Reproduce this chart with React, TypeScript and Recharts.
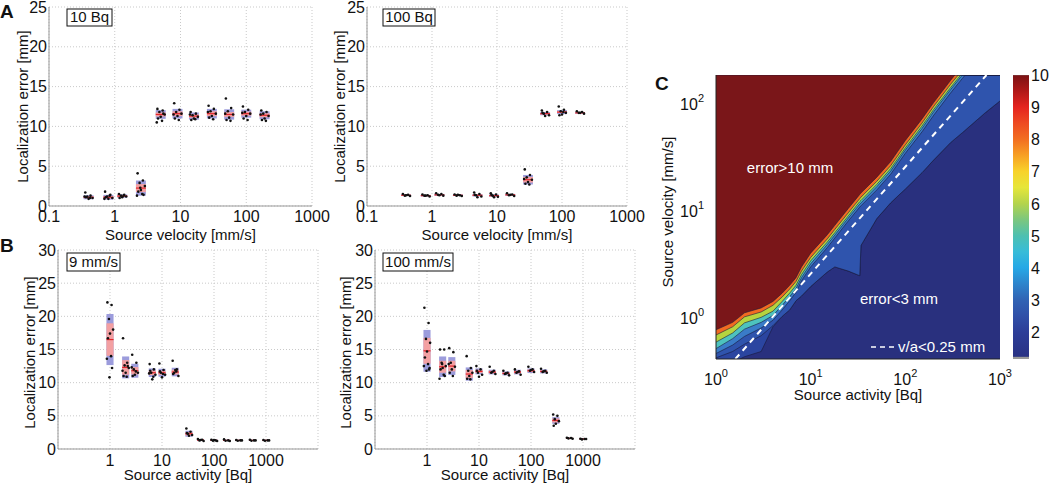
import React from 'react';
import {
  ComposedChart,
  XAxis,
  YAxis,
  CartesianGrid,
  Scatter,
  ReferenceArea,
  ReferenceLine,
  Area,
} from 'recharts';

// ---------- panel A: error vs source velocity (mm/s)
const velocities = [0.4, 0.8, 1.3, 2.5, 5, 9, 16, 30, 55, 100, 190];
const velTicks = [0.1, 1, 10, 100, 1000];

const bq10Mean = [1.1, 1.1, 1.25, 2.25, 11.5, 11.6, 11.3, 11.6, 11.5, 11.6, 11.4];
const bq10Sd = [0.25, 0.3, 0.2, 0.95, 0.55, 0.6, 0.45, 0.6, 0.65, 0.5, 0.5];
const bq10Ci = [0.12, 0.15, 0.1, 0.5, 0.25, 0.3, 0.2, 0.3, 0.3, 0.25, 0.25];
const bq10Pts = [
  [1.7, 1.3, 1.2, 1.0, 0.9, 1.1, 1.0, 1.2],
  [1.8, 1.4, 1.2, 1.0, 0.9, 1.1, 1.3, 0.9],
  [1.5, 1.4, 1.3, 1.2, 1.1, 1.0, 1.3],
  [4.1, 3.2, 2.9, 2.5, 2.0, 1.8, 1.5, 1.3, 1.4, 2.3],
  [12.2, 12.0, 11.8, 11.5, 11.2, 11.0, 10.7, 10.5, 11.6],
  [12.9, 12.1, 11.8, 11.6, 11.3, 11.0, 10.8, 11.5],
  [11.8, 11.6, 11.4, 11.2, 11.0, 10.8, 10.9, 11.5],
  [12.6, 12.2, 11.9, 11.6, 11.3, 11.1, 10.9, 11.8],
  [13.5, 12.3, 11.9, 11.5, 11.1, 10.8, 10.7, 11.6],
  [12.5, 12.1, 11.8, 11.6, 11.3, 11.0, 10.8, 11.7],
  [12.0, 11.8, 11.6, 11.3, 11.0, 10.8, 10.7, 11.5],
];

const bq100Mean = [1.35, 1.3, 1.4, 1.35, 1.35, 1.3, 1.4, 3.3, 11.6, 11.8, 11.7];
const bq100Sd = [0.1, 0.1, 0.12, 0.1, 0.15, 0.15, 0.12, 0.6, 0.2, 0.25, 0.1];
const bq100Ci = [0.05, 0.05, 0.06, 0.05, 0.08, 0.08, 0.06, 0.35, 0.1, 0.12, 0.05];
const bq100Pts = [
  [1.5, 1.4, 1.3, 1.25, 1.35],
  [1.45, 1.35, 1.3, 1.2, 1.3],
  [1.6, 1.5, 1.4, 1.3, 1.35],
  [1.45, 1.35, 1.3, 1.25, 1.4],
  [1.7, 1.5, 1.35, 1.2, 1.1, 1.4],
  [1.6, 1.45, 1.3, 1.15, 1.1, 1.4],
  [1.6, 1.45, 1.35, 1.25, 1.4],
  [4.6, 3.9, 3.6, 3.3, 3.0, 2.8, 2.7, 3.4],
  [12.0, 11.8, 11.6, 11.4, 11.3, 11.7],
  [12.5, 12.1, 11.9, 11.7, 11.5, 11.4, 11.8],
  [11.9, 11.8, 11.7, 11.6, 11.7],
];

// ---------- panel B: error vs source activity (Bq)
const activities = [1, 2, 3, 6.5, 10, 18, 33, 55, 100, 175, 300, 550, 1000];
const actTicks = [1, 10, 100, 1000];

const v9Mean = [16.5, 12.3, 11.8, 11.5, 11.5, 11.6, 2.3, 1.35, 1.3, 1.3, 1.3, 1.3, 1.3];
const v9Sd = [3.85, 1.65, 1.05, 0.65, 0.6, 0.65, 0.45, 0.15, 0.1, 0.1, 0.08, 0.08, 0.08];
const v9Ci = [2.45, 1.1, 0.55, 0.35, 0.3, 0.35, 0.25, 0.08, 0.05, 0.05, 0.04, 0.04, 0.04];
const v9Pts = [
  [22.1, 21.7, 19.6, 18.0, 17.4, 16.7, 14.0, 13.6, 12.2, 10.8],
  [16.7, 13.0, 12.6, 12.2, 11.5, 11.0, 10.9, 11.8, 12.5],
  [14.2, 13.0, 12.0, 11.5, 11.2, 11.0, 11.7, 12.3],
  [12.8, 12.0, 11.5, 11.2, 10.5, 11.8, 10.9, 11.4],
  [12.9, 11.9, 11.5, 11.2, 10.8, 11.7, 11.3],
  [13.3, 12.0, 11.5, 11.0, 11.9, 11.3, 11.7],
  [3.1, 2.6, 2.3, 2.1, 2.0, 2.4],
  [1.5, 1.4, 1.3, 1.2, 1.35],
  [1.4, 1.3, 1.25, 1.2, 1.35],
  [1.45, 1.3, 1.25, 1.2],
  [1.35, 1.3, 1.25, 1.3],
  [1.4, 1.3, 1.25, 1.3],
  [1.35, 1.3, 1.25, 1.3],
];

const v100Mean = [14.8, 12.4, 12.5, 11.3, 11.7, 11.6, 11.4, 11.6, 11.8, 11.7, 4.3, 1.6, 1.5];
const v100Sd = [3.15, 1.55, 1.35, 1.0, 0.45, 0.35, 0.3, 0.35, 0.35, 0.3, 0.5, 0.08, 0.07];
const v100Ci = [1.95, 0.9, 0.8, 0.6, 0.25, 0.2, 0.15, 0.2, 0.2, 0.15, 0.3, 0.04, 0.04];
const v100Pts = [
  [21.3, 19.0, 16.6, 16.0, 14.7, 13.8, 12.8, 12.5, 12.0, 11.8, 12.2],
  [15.0, 15.0, 13.0, 12.5, 12.2, 12.0, 11.2, 10.6, 11.0, 12.8],
  [15.2, 14.6, 13.0, 12.4, 12.0, 11.5, 11.0, 12.8],
  [14.0, 12.2, 11.8, 11.5, 11.0, 10.6, 10.5],
  [12.5, 12.0, 11.5, 11.2, 10.9, 11.8],
  [12.4, 11.8, 11.5, 11.3, 11.6],
  [11.8, 11.5, 11.3, 11.1, 11.4],
  [12.0, 11.7, 11.5, 11.2, 11.6],
  [12.4, 12.0, 11.8, 11.6, 11.9],
  [12.1, 11.8, 11.6, 11.5, 11.7],
  [5.2, 5.0, 4.5, 4.2, 3.8, 3.5],
  [1.7, 1.65, 1.6, 1.55],
  [1.55, 1.5, 1.45, 1.5],
];

// horizontal spread of the raw points, in decades
const jitter = [-0.05, 0.03, -0.02, 0.06, 0.0, -0.04, 0.02, -0.06, 0.04, -0.01, 0.05];

// ---------- panel C: contour edges (velocity at each activity)
const actGrid = [1, 1.5, 2, 3, 4, 5, 6, 7, 8, 10, 15, 18, 25, 33, 34, 50, 70, 100, 150, 200, 300, 400, 700, 1000];
const edgeRed = [0.75, 0.88, 1.08, 1.2, 1.38, 1.65, 1.95, 2.3, 2.9, 3.9, 5.8, 7.1, 10.2, 13.8, 14.2, 20, 28, 44, 70, 100, 160, 220, 400, 600];
const edgeOrange = [0.67, 0.8, 0.99, 1.1, 1.27, 1.52, 1.8, 2.12, 2.65, 3.55, 5.3, 6.5, 9.3, 12.6, 13, 18.3, 25.6, 40, 64, 92, 147, 200, 365, 550];
const edgeYellow = [0.575, 0.7, 0.87, 0.98, 1.12, 1.38, 1.65, 1.95, 2.45, 3.3, 4.95, 6.05, 8.7, 11.8, 12.1, 17.1, 24, 37.5, 60, 86, 137, 188, 345, 515];
const edgeTeal = [0.5, 0.62, 0.76, 0.88, 1.02, 1.27, 1.53, 1.82, 2.3, 3.1, 4.7, 5.75, 8.3, 11.2, 11.5, 16.3, 22.8, 35.8, 57, 82, 131, 180, 330, 490];
const edgeLight = [0.45, 0.54, 0.65, 0.78, 0.92, 1.15, 1.4, 1.68, 2.15, 2.9, 4.4, 5.4, 7.8, 10.5, 10.8, 15.2, 21.3, 33.4, 53, 76, 122, 167, 305, 455];
const edgeBlue = [0.41, 0.47, 0.55, 0.66, 0.82, 1.0, 1.15, 1.4, 1.55, 1.9, 2.6, 2.9, 2.65, 2.4, 4.6, 8.2, 11.5, 15.5, 22, 29, 42, 52, 80, 103];
const edgeNavy = [0.3, 0.37, 0.42, 0.47, 0.8, 1.0, 1.15, 1.4, 1.55, 1.9, 2.6, 2.9, 2.65, 2.4, 4.6, 8.2, 11.5, 15.5, 22, 29, 42, 52, 80, 103];

const dashAct = [1.6, 720];
const dashVel = [0.4, 180];

const cActTicks = [1, 10, 100, 1000];
const cVelTicks = [1, 10, 100];
const cVelDomain = [0.4, 180];

// colour bar
const cbarTicks = [2, 3, 4, 5, 6, 7, 8, 9, 10];
const cbarRange = [1.22, 10];
const cbarFloor = 1.16;
const jetStops = [
  [10, '#7a1214'], [9.5, '#b01818'], [9, '#e52420'], [8.5, '#ee4a22'], [8, '#f26e21'],
  [7.5, '#f7a024'], [7, '#f8d22a'], [6.5, '#e6e63a'], [6, '#b4d44c'], [5.5, '#7cc77e'],
  [5, '#4ec0b0'], [4.5, '#38bcd8'], [4, '#26a8e6'], [3.5, '#2d84cc'], [3, '#3163b4'],
  [2.5, '#3050a8'], [2, '#2d3e98'], [1.22, '#293184'],
] as const;

type Group = { x: number; mean: number; sd: number; ci: number; pts: number[] };

const makeGroups = (xs: number[], m: number[], sd: number[], ci: number[], pts: number[][]): Group[] =>
  xs.map((x, i) => ({ x, mean: m[i], sd: sd[i], ci: ci[i], pts: pts[i] }));

const scatterPts = (groups: Group[]) =>
  groups.flatMap((g) => g.pts.map((y, j) => ({ x: g.x * Math.pow(10, jitter[j % jitter.length]), y })));

const FONT = '"Liberation Sans", Arial, Helvetica, sans-serif';

const xTitle = (text: string, dy: number) => (p: any) => {
  const vb = p.viewBox;
  return (
    <text x={vb.x + vb.width / 2} y={vb.y + dy} textAnchor="middle" fontSize={15} fill="#111">
      {text}
    </text>
  );
};

const yTitle = (text: string, x: number, dy: number) => (p: any) => {
  const vb = p.viewBox;
  const cy = vb.y + vb.height / 2 + dy;
  return (
    <text x={x} y={cy} transform={`rotate(-90 ${x} ${cy})`} textAnchor="middle" fontSize={15} fill="#111">
      {text}
    </text>
  );
};

interface BoxPanelProps {
  left: number;
  top: number;
  height: number;
  plotTop: number;
  yWidth: number;
  rightPad: number;
  xHeight: number;
  xDomain: number[];
  xTicks: number[];
  yMax: number;
  groups: Group[];
  boxW: number;
  xLabel: string;
  xLabelDy: number;
  xTickDy: number;
  yLabelX: number;
  yLabelDy: number;
}

const BoxPanel: React.FC<BoxPanelProps> = (p) => {
  const yTicks = Array.from({ length: p.yMax / 5 + 1 }, (_, i) => i * 5);
  return (
    <div style={{ position: 'absolute', left: p.left, top: p.top }}>
      <ComposedChart width={340} height={p.height} margin={{ top: p.plotTop, right: p.rightPad, left: 0, bottom: 0 }}>
        <CartesianGrid stroke="#c9c9c9" strokeDasharray="1 2" />
        <XAxis
          dataKey="x"
          type="number"
          scale="log"
          domain={p.xDomain}
          ticks={p.xTicks}
          allowDataOverflow
          height={p.xHeight}
          axisLine={{ stroke: '#999' }}
          tickLine={false}
          tickSize={0}
          tickMargin={0}
          interval={0}
          tick={(t: any) => (
            <text x={t.x} y={t.y + p.xTickDy} textAnchor="middle" fontSize={16} fill="#111">
              {t.payload.value}
            </text>
          )}
          label={xTitle(p.xLabel, p.xLabelDy)}
        />
        <YAxis
          dataKey="y"
          type="number"
          domain={[0, p.yMax]}
          ticks={yTicks}
          allowDataOverflow
          width={p.yWidth}
          axisLine={{ stroke: '#999' }}
          tickLine={false}
          tickSize={0}
          tickMargin={0}
          interval={0}
          tick={(t: any) => (
            <text x={t.x - 2} y={t.y + 5.5} textAnchor="end" fontSize={16} fill="#111">
              {t.payload.value}
            </text>
          )}
          label={yTitle('Localization error [mm]', p.yLabelX, p.yLabelDy)}
        />
        {p.groups.map((g, i) => (
          <ReferenceArea
            key={`sd${i}`}
            x1={g.x / p.boxW}
            x2={g.x * p.boxW}
            y1={g.mean - g.sd}
            y2={g.mean + g.sd}
            fill="#9c9cdc"
            fillOpacity={1}
            stroke="none"
          />
        ))}
        {p.groups.map((g, i) => (
          <ReferenceArea
            key={`ci${i}`}
            x1={g.x / p.boxW}
            x2={g.x * p.boxW}
            y1={g.mean - g.ci}
            y2={g.mean + g.ci}
            fill="#f3a0a2"
            fillOpacity={1}
            stroke="none"
          />
        ))}
        {p.groups.map((g, i) => (
          <ReferenceLine
            key={`m${i}`}
            segment={[
              { x: g.x / p.boxW, y: g.mean },
              { x: g.x * p.boxW, y: g.mean },
            ]}
            stroke="#e3262b"
            strokeWidth={1.2}
          />
        ))}
        <Scatter
          data={scatterPts(p.groups)}
          isAnimationActive={false}
          shape={(s: any) => <circle cx={s.cx} cy={s.cy} r={1.3} fill="#111" />}
        />
      </ComposedChart>
    </div>
  );
};

const contourRows = actGrid.map((a, i) => ({
  a,
  red: edgeRed[i],
  orange: edgeOrange[i],
  yellow: edgeYellow[i],
  teal: edgeTeal[i],
  light: edgeLight[i],
  blue: edgeBlue[i],
  navy: edgeNavy[i],
}));

// band colour for the region above each edge, drawn bottom to top
const bands = [
  { key: 'navy', fill: '#2b45a0' },
  { key: 'blue', fill: '#2f54ad' },
  { key: 'light', fill: '#3a7cc8' },
  { key: 'teal', fill: '#4dc3be' },
  { key: 'yellow', fill: '#b5d43f' },
  { key: 'orange', fill: '#f26a21' },
  { key: 'red', fill: '#7a1619' },
];

const supTick = (anchor: 'middle' | 'end', dx: number, dy: number) => (t: any) => (
  <text x={t.x + dx} y={t.y + dy} textAnchor={anchor} fontSize={16} fill="#111">
    10
    <tspan dy={-8} fontSize={11}>
      {Math.round(Math.log10(t.payload.value))}
    </tspan>
  </text>
);

const ContourPanel = () => (
  <div style={{ position: 'absolute', left: 640, top: 60 }}>
    <ComposedChart width={380} height={345} data={contourRows} margin={{ top: 15, right: 20, left: 0, bottom: 0 }}>
      <CartesianGrid horizontal={false} vertical={false} fill="#29307e" />
      <XAxis
        dataKey="a"
        type="number"
        scale="log"
        domain={[1, 1000]}
        ticks={cActTicks}
        allowDataOverflow
        height={46}
        axisLine={{ stroke: '#222' }}
        tickLine={false}
        tickSize={0}
        tickMargin={0}
        interval={0}
        tick={supTick('middle', 0, 26)}
        label={xTitle('Source activity [Bq]', 41)}
      />
      <YAxis
        type="number"
        scale="log"
        domain={cVelDomain}
        ticks={cVelTicks}
        allowDataOverflow
        width={76}
        axisLine={{ stroke: '#222' }}
        tickLine={false}
        tickSize={0}
        tickMargin={0}
        interval={0}
        tick={supTick('end', -12, 8)}
        label={yTitle('Source velocity [mm/s]', 33, -5)}
      />
      {bands.map((b) => (
        <Area
          key={b.key}
          type="linear"
          dataKey={(d: any) => [d[b.key], cVelDomain[1]]}
          fill={b.fill}
          fillOpacity={1}
          stroke="#1a1a3a"
          strokeWidth={0.6}
          dot={false}
          activeDot={false}
          isAnimationActive={false}
        />
      ))}
      <ReferenceLine
        segment={[
          { x: dashAct[0], y: dashVel[0] },
          { x: dashAct[1], y: dashVel[1] },
        ]}
        stroke="#ffffff"
        strokeWidth={2}
        strokeDasharray="6 5"
        ifOverflow="visible"
      />
    </ComposedChart>
  </div>
);

const cbarRows = [{ x: 0 }, { x: 1 }];

const ColorBar = () => (
  <div style={{ position: 'absolute', left: 1005, top: 60 }}>
    <ComposedChart width={45} height={315} data={cbarRows} margin={{ top: 15, right: 0, left: 8, bottom: 16 }}>
      <XAxis type="number" dataKey="x" domain={[0, 1]} hide />
      <YAxis
        type="number"
        orientation="right"
        domain={[cbarFloor, cbarRange[1]]}
        ticks={cbarTicks}
        allowDataOverflow
        width={21}
        axisLine={false}
        tickLine={false}
        tickSize={0}
        tickMargin={0}
        interval={0}
        tick={(t: any) => (
          <text x={t.x + 2} y={t.y + 6} textAnchor="start" fontSize={16} fill="#111">
            {t.payload.value}
          </text>
        )}
      />
      <Area
        type="linear"
        dataKey={() => [cbarFloor, cbarRange[0]]}
        fill="#9a9a9a"
        fillOpacity={1}
        stroke="none"
        dot={false}
        activeDot={false}
        isAnimationActive={false}
      />
      <Area
        type="linear"
        dataKey={() => [cbarRange[0], cbarRange[1]]}
        fill="url(#jet)"
        fillOpacity={1}
        stroke="#8a8a8a"
        strokeWidth={0.5}
        dot={false}
        activeDot={false}
        isAnimationActive={false}
      />
    </ComposedChart>
  </div>
);

const BoxTag = ({ x, y, w, h, text }: { x: number; y: number; w: number; h: number; text: string }) => (
  <g>
    <rect x={x} y={y} width={w} height={h} fill="#fff" stroke="#111" strokeWidth={1} />
    <text x={x + w / 2} y={y + h - 4} textAnchor="middle" fontSize={15} fill="#111">
      {text}
    </text>
  </g>
);

export default function App() {
  const gA10 = makeGroups(velocities, bq10Mean, bq10Sd, bq10Ci, bq10Pts);
  const gA100 = makeGroups(velocities, bq100Mean, bq100Sd, bq100Ci, bq100Pts);
  const gB9 = makeGroups(activities, v9Mean, v9Sd, v9Ci, v9Pts);
  const gB100 = makeGroups(activities, v100Mean, v100Sd, v100Ci, v100Pts);

  return (
    <div style={{ position: 'absolute', left: 0, top: 0, width: 1050, height: 483, background: '#fff', fontFamily: FONT }}>
      <svg width={0} height={0} style={{ position: 'absolute' }}>
        <defs>
          <linearGradient id="jet" x1="0" y1="0" x2="0" y2="1">
            {jetStops.map(([v, c]) => (
              <stop key={v} offset={(cbarRange[1] - v) / (cbarRange[1] - cbarRange[0])} stopColor={c} />
            ))}
          </linearGradient>
        </defs>
      </svg>
      <BoxPanel
        left={0} top={0} height={245} plotTop={7} yWidth={49} rightPad={28} xHeight={39}
        xDomain={[0.1, 1000]} xTicks={velTicks} yMax={25} groups={gA10} boxW={1.19}
        xLabel="Source velocity [mm/s]" xLabelDy={34} xTickDy={16} yLabelX={28} yLabelDy={0}
      />
      <BoxPanel
        left={320} top={0} height={245} plotTop={7} yWidth={47} rightPad={33} xHeight={39}
        xDomain={[0.1, 1000]} xTicks={velTicks} yMax={25} groups={gA100} boxW={1.19}
        xLabel="Source velocity [mm/s]" xLabelDy={34} xTickDy={16} yLabelX={25} yLabelDy={0}
      />
      <BoxPanel
        left={0} top={240} height={243} plotTop={10} yWidth={58} rightPad={22} xHeight={34}
        xDomain={[0.1, 10000]} xTicks={actTicks} yMax={30} groups={gB9} boxW={1.17}
        xLabel="Source activity [Bq]" xLabelDy={31} xTickDy={17} yLabelX={35} yLabelDy={3}
      />
      <BoxPanel
        left={320} top={240} height={243} plotTop={10} yWidth={55} rightPad={25} xHeight={34}
        xDomain={[0.1, 10000]} xTicks={actTicks} yMax={30} groups={gB100} boxW={1.17}
        xLabel="Source activity [Bq]" xLabelDy={31} xTickDy={17} yLabelX={31} yLabelDy={3}
      />
      <ContourPanel />
      <ColorBar />
      <svg
        width={1050}
        height={483}
        style={{ position: 'absolute', left: 0, top: 0, pointerEvents: 'none', fontFamily: FONT }}
      >
        <text x={0} y={18} fontSize={19} fontWeight="bold" fill="#111">A</text>
        <text x={0} y={252} fontSize={19} fontWeight="bold" fill="#111">B</text>
        <text x={655} y={90} fontSize={19} fontWeight="bold" fill="#111">C</text>
        <BoxTag x={67} y={9} w={45} h={17} text="10 Bq" />
        <BoxTag x={383} y={9} w={52} h={17} text="100 Bq" />
        <BoxTag x={67} y={253} w={53} h={18} text="9 mm/s" />
        <BoxTag x={383} y={253} w={70} h={18} text="100 mm/s" />
        <text x={790} y={173} textAnchor="middle" fontSize={15} fill="#fff">error&gt;10 mm</text>
        <text x={899} y={304} textAnchor="middle" fontSize={15} fill="#fff">error&lt;3 mm</text>
        <line x1={871} y1={347} x2={895} y2={347} stroke="#fff" strokeWidth={1.5} strokeDasharray="5 4" />
        <text x={898} y={352} fontSize={15} fill="#fff">v/a&lt;0.25 mm</text>
      </svg>
    </div>
  );
}
